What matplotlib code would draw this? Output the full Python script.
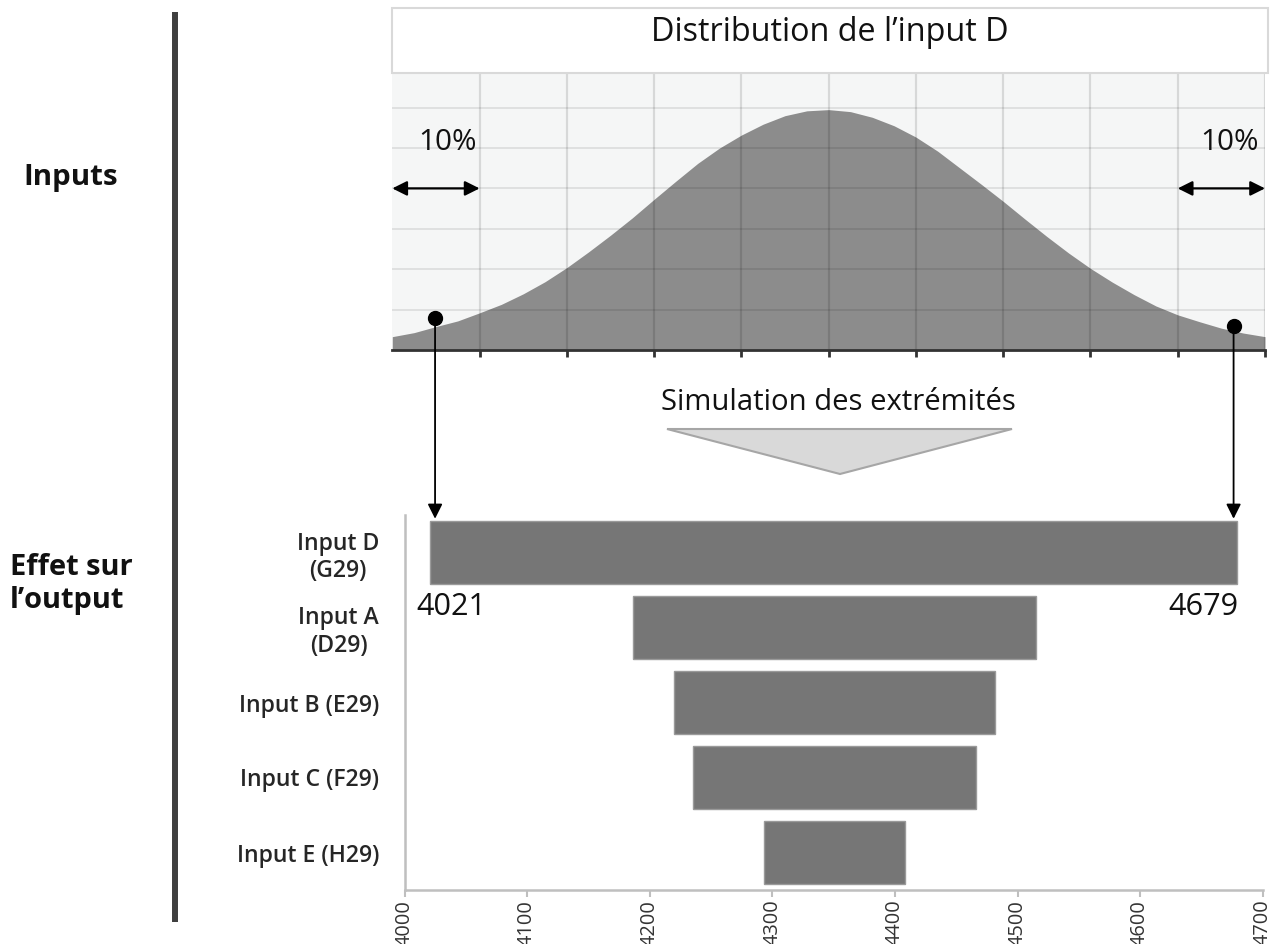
import numpy as np
import matplotlib
matplotlib.use("Agg")
import matplotlib.pyplot as plt
from matplotlib.patches import Rectangle, Polygon, ConnectionPatch
from matplotlib.lines import Line2D
import matplotlib.transforms as mtransforms

# ---------------- data ----------------
dist_x = [0, 0.25, 0.5, 0.75, 1, 1.25, 1.5, 1.75, 2, 2.25, 2.5, 2.75, 3, 3.25, 3.5, 3.75,
          4, 4.25, 4.5, 4.75, 5, 5.25, 5.5, 5.75, 6, 6.25, 6.5, 6.75, 7, 7.25, 7.5, 7.75,
          8, 8.25, 8.5, 8.75, 9, 9.25, 9.5, 9.75, 10]
dist_y = [0.33, 0.43, 0.58, 0.72, 0.92, 1.13, 1.39, 1.69, 2.04, 2.43, 2.84, 3.27, 3.73, 4.18,
          4.62, 5.00, 5.32, 5.59, 5.80, 5.92, 5.95, 5.90, 5.76, 5.55, 5.27, 4.92, 4.51, 4.10,
          3.68, 3.24, 2.81, 2.40, 2.02, 1.68, 1.37, 1.09, 0.87, 0.70, 0.54, 0.42, 0.33]
dot_x = [0.49, 9.64]
dot_y = [0.78, 0.60]
tail_pct = ["10%", "10%"]
pct_x = [0.63, 9.59]

categories = ["Input D\n(G29)", "Input A\n(D29)", "Input B (E29)", "Input C (F29)", "Input E (H29)"]
low_vals = [4021, 4186, 4220, 4235, 4293]
high_vals = [4679, 4515, 4482, 4466, 4408]
xticks = [4000, 4100, 4200, 4300, 4400, 4500, 4600, 4700]

title_top = "Distribution de l\u2019input D"
sim_text = "Simulation des extr\u00e9mit\u00e9s"
label_inputs = "Inputs"
label_effect = ["Effet sur", "l\u2019output"]

# ---------------- figure ----------------
W, H = 1282, 944
FONT = "Open Sans"
plt.rcParams["font.family"] = [FONT, "DejaVu Sans"]
fig = plt.figure(figsize=(W / 100, H / 100), dpi=100)
fig.patch.set_facecolor("white")
R = fig.canvas.get_renderer()


def fx(px):
    return px / W


def fy(py):
    return 1 - py / H


def fitsize(s, width_px, weight="normal"):
    t = fig.text(0, 0, s, fontsize=10, fontweight=weight)
    w = t.get_window_extent(renderer=R).width
    t.remove()
    return 10 * width_px / w


# ---- top distribution chart ----
top_l, top_r, top_t, top_b = 392.3, 1265, 72.7, 350
ax1 = fig.add_axes([fx(top_l), fy(top_b), (top_r - top_l) / W, (top_b - top_t) / H])
ax1.set_facecolor("#f5f6f6")
ax1.set_xlim(0, 10)
ax1.set_ylim(0, (top_b - top_t) / 40.4)
ax1.fill_between(dist_x, 0, dist_y, color="#8c8c8c", lw=0, zorder=1)
for gx in range(1, 11):
    ax1.axvline(gx, color=(0, 0, 0, 0.12), lw=1.6, zorder=2)
for gy in range(1, 7):
    ax1.axhline(gy, color=(0, 0, 0, 0.09), lw=1.4, zorder=2)
for s in ["left", "right", "top"]:
    ax1.spines[s].set_visible(False)
ax1.spines["bottom"].set_color("#333333")
ax1.spines["bottom"].set_linewidth(2)
ax1.spines["bottom"].set_zorder(5)
ax1.set_xticks(range(1, 11))
ax1.set_xticklabels([])
ax1.set_yticks([])
ax1.tick_params(axis="x", direction="out", length=5, width=2, color="#333333")

ax1.plot(dot_x, dot_y, "o", color="black", ms=10, zorder=6, clip_on=False)

pct_size = fitsize("10%", 59)
for (a, b), lab, px_ in zip([(0, 1), (9, 10)], tail_pct, pct_x):
    ax1.annotate("", xy=(a, 4), xytext=(b, 4),
                 arrowprops=dict(arrowstyle="<|-|>", color="black", lw=1.6,
                                 mutation_scale=22, shrinkA=0, shrinkB=0), zorder=6)
    ax1.text(px_, 4.95, lab, ha="center", va="baseline", fontsize=pct_size,
             color="#111111", zorder=6)

# title box
fig.patches.append(Rectangle((fx(391.7), fy(72.7)), (1268 - 391.7) / W, (72.7 - 8.3) / H,
                             transform=fig.transFigure, facecolor="white",
                             edgecolor="#d9d9d9", lw=1.5))
fig.text(fx(830), fy(40.7), title_top, ha="center", va="baseline",
         fontsize=fitsize(title_top, 360), color="#111111")

# ---- tornado chart ----
bot_l, bot_r, bot_t, bot_b = 404.5, 1262.7, 515, 890
ax2 = fig.add_axes([fx(bot_l), fy(bot_b), (bot_r - bot_l) / W, (bot_b - bot_t) / H])
ypos = np.arange(len(categories))
widths = [h - l for h, l in zip(high_vals, low_vals)]
ax2.barh(ypos, widths, left=low_vals, height=0.83, color="#767676",
         edgecolor="#9a9a9a", lw=1, zorder=3)
ax2.set_xlim(4000, 4700)
ax2.set_ylim(len(categories) - 0.5, -0.5)
ax2.set_xticks(xticks)
ax2.set_yticks(ypos)
ytl_size = fitsize("Input B (E29)", 140, weight="semibold")
ax2.set_yticklabels(categories, fontsize=ytl_size, fontweight="semibold",
                    color="#262626", multialignment="center")
xtl_size = fitsize("4000", 46)
ax2.set_xticklabels([str(v) for v in xticks], rotation=90, fontsize=xtl_size, color="#333333")
ax2.tick_params(axis="y", length=0, pad=18.4)
ax2.tick_params(axis="x", length=5, width=1.5, color="#bfbfbf", pad=2)
for s in ["right", "top"]:
    ax2.spines[s].set_visible(False)
for s in ["left", "bottom"]:
    ax2.spines[s].set_color("#bfbfbf")
    ax2.spines[s].set_linewidth(1.8)

val_size = fitsize("4021", 70)
ax2.annotate(f"{low_vals[0]}", xy=(low_vals[0], 0.833), xytext=(-14, 0),
             textcoords="offset pixels", ha="left", va="baseline",
             fontsize=val_size, color="#111111")
ax2.annotate(f"{high_vals[0]}", xy=(high_vals[0], 0.833), xytext=(2, 0),
             textcoords="offset pixels", ha="right", va="baseline",
             fontsize=val_size, color="#111111")

# ---- vertical arrows from dots to bar ends ----
for dxv, dyv in zip(dot_x, dot_y):
    trans_b = mtransforms.blended_transform_factory(ax1.transData, ax2.transData)
    con = ConnectionPatch(xyA=(dxv, dyv), coordsA=ax1.transData,
                          xyB=(dxv, -0.5 + 0.05), coordsB=trans_b,
                          arrowstyle="-|>", mutation_scale=22, lw=1.3, color="black",
                          shrinkA=0, shrinkB=0)
    fig.add_artist(con)

# ---- middle text + triangle ----
fig.text(fx(838), fy(410), sim_text, ha="center", va="baseline",
         fontsize=fitsize(sim_text, 356), color="#111111")
tri = Polygon([(fx(667), fy(429)), (fx(1012), fy(429)), (fx(840), fy(474))],
              closed=True, transform=fig.transFigure, facecolor="#d9d9d9",
              edgecolor="#a6a6a6", lw=1.5)
fig.patches.append(tri)

# ---- left labels + separator ----
fig.add_artist(Line2D([fx(175), fx(175)], [fy(12), fy(922)], transform=fig.transFigure,
                      color="#3f3f3f", lw=4.3, solid_capstyle="butt"))
fig.text(fx(23), fy(185), label_inputs, ha="left", va="baseline",
         fontsize=fitsize(label_inputs, 95, "bold"), fontweight="bold", color="#111111")
eff_size = fitsize(label_effect[0], 123, "bold")
fig.text(fx(10), fy(575), label_effect[0], ha="left", va="baseline",
         fontsize=eff_size, fontweight="bold", color="#111111")
fig.text(fx(10), fy(608), label_effect[1], ha="left", va="baseline",
         fontsize=eff_size, fontweight="bold", color="#111111")

fig.savefig("out.png", dpi=100, facecolor="white")
